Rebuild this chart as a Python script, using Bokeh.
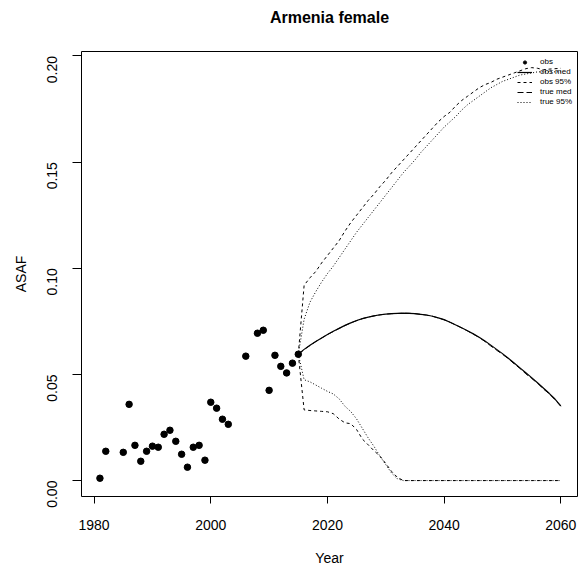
import math
from bokeh.plotting import figure
from bokeh.models import ColumnDataSource, Legend, LegendItem, FixedTicker, Title
from bokeh.embed import file_html
from bokeh.resources import INLINE

# ---- data ----
obs_years = [1981, 1982, 1985, 1986, 1987, 1988, 1989, 1990, 1991, 1992, 1993,
             1994, 1995, 1996, 1997, 1998, 1999, 2000, 2001, 2002, 2003, 2006,
             2008, 2009, 2010, 2011, 2012, 2013, 2014, 2015]
obs_values = [0.0011, 0.0138, 0.0133, 0.0359, 0.0166, 0.0091, 0.0138, 0.0162,
              0.0157, 0.0218, 0.0237, 0.0185, 0.0124, 0.0063, 0.0157, 0.0166,
              0.0096, 0.0369, 0.0341, 0.0289, 0.0265, 0.0586, 0.0694, 0.0708,
              0.0425, 0.0590, 0.0538, 0.0507, 0.0553, 0.0595]

proj_years = list(range(2015, 2061))

obs_med = [0.0595, 0.0618, 0.0637, 0.0655, 0.0672, 0.0688, 0.0703, 0.0717,
           0.0731, 0.0743, 0.0754, 0.0763, 0.0770, 0.0776, 0.0781, 0.0784,
           0.0786, 0.0788, 0.0789, 0.0788, 0.0786, 0.0783, 0.0780, 0.0774,
           0.0766, 0.0758, 0.0746, 0.0733, 0.0720, 0.0706, 0.0691, 0.0675,
           0.0657, 0.0638, 0.0618, 0.0598, 0.0576, 0.0554, 0.0531, 0.0508,
           0.0485, 0.0461, 0.0436, 0.0411, 0.0384, 0.0352]

true_med = [0.0595, 0.0617, 0.0636, 0.0655, 0.0671, 0.0688, 0.0702, 0.0717,
            0.0730, 0.0743, 0.0753, 0.0763, 0.0770, 0.0776, 0.0780, 0.0784,
            0.0786, 0.0787, 0.0788, 0.0788, 0.0786, 0.0783, 0.0779, 0.0774,
            0.0766, 0.0757, 0.0746, 0.0733, 0.0719, 0.0705, 0.0690, 0.0674,
            0.0655, 0.0634, 0.0614, 0.0595, 0.0574, 0.0550, 0.0528, 0.0503,
            0.0481, 0.0459, 0.0432, 0.0409, 0.0381, 0.0350]

obs_hi = [0.0595, 0.0920, 0.0955, 0.0985, 0.1025, 0.1060, 0.1095, 0.1130,
          0.1175, 0.1215, 0.1250, 0.1285, 0.1320, 0.1350, 0.1385, 0.1415,
          0.1450, 0.1480, 0.1510, 0.1540, 0.1570, 0.1600, 0.1630, 0.1660,
          0.1690, 0.1715, 0.1735, 0.1765, 0.1790, 0.1810, 0.1830, 0.1850,
          0.1865, 0.1875, 0.1890, 0.1900, 0.1910, 0.1920, 0.1930, 0.1940,
          0.1945, 0.1942, 0.1935, 0.1938, 0.1940, 0.1942]

obs_lo = [0.0595, 0.0333, 0.0330, 0.0328, 0.0326, 0.0324, 0.0315, 0.0290,
          0.0272, 0.0268, 0.0240, 0.0195, 0.0168, 0.0140, 0.0115, 0.0080,
          0.0043, 0.0015, 0.0000, 0.0000, 0.0000, 0.0000, 0.0000, 0.0000,
          0.0000, 0.0000, 0.0000, 0.0000, 0.0000, 0.0000, 0.0000, 0.0000,
          0.0000, 0.0000, 0.0000, 0.0000, 0.0000, 0.0000, 0.0000, 0.0000,
          0.0000, 0.0000, 0.0000, 0.0000, 0.0000, 0.0000]

true_hi = [0.0595, 0.0760, 0.0840, 0.0890, 0.0935, 0.0975, 0.1010, 0.1050,
           0.1090, 0.1130, 0.1170, 0.1205, 0.1240, 0.1275, 0.1310, 0.1345,
           0.1380, 0.1415, 0.1450, 0.1480, 0.1510, 0.1545, 0.1575, 0.1605,
           0.1635, 0.1665, 0.1690, 0.1715, 0.1745, 0.1770, 0.1790, 0.1810,
           0.1830, 0.1850, 0.1865, 0.1880, 0.1890, 0.1900, 0.1910, 0.1915,
           0.1920, 0.1925, 0.1925, 0.1925, 0.1925, 0.1925]

true_lo = [0.0595, 0.0475, 0.0465, 0.0450, 0.0435, 0.0420, 0.0408, 0.0385,
           0.0350, 0.0325, 0.0290, 0.0245, 0.0200, 0.0160, 0.0115, 0.0075,
           0.0035, 0.0008, 0.0000, 0.0000, 0.0000, 0.0000, 0.0000, 0.0000,
           0.0000, 0.0000, 0.0000, 0.0000, 0.0000, 0.0000, 0.0000, 0.0000,
           0.0000, 0.0000, 0.0000, 0.0000, 0.0000, 0.0000, 0.0000, 0.0000,
           0.0000, 0.0000, 0.0000, 0.0000, 0.0000, 0.0000]

x_ticks = [1980, 2000, 2020, 2040, 2060]
y_ticks = [0.00, 0.05, 0.10, 0.15, 0.20]
title_text = "Armenia female"

FONT = "Liberation Sans"
FRAME_W, FRAME_H = 496, 445

p = figure(frame_width=FRAME_W, frame_height=FRAME_H,
           x_range=(1977.84, 2062.86), y_range=(-0.0075, 0.2021),
           output_backend="svg", toolbar_location=None,
           min_border_left=81, min_border_right=5, min_border_top=51,
           min_border_bottom=73, title=title_text)
p.background_fill_color = "white"
p.border_fill_color = "white"
p.outline_line_color = "black"
p.outline_line_width = 1
p.grid.visible = False

p.title.align = "center"
p.title.text_font = FONT
p.title.text_font_size = "16px"
p.title.text_font_style = "bold"
p.title.text_color = "black"

# invisible spacer between the title and the frame, pushes the title upward
p.add_layout(Title(text=" ", text_font_size="8px", text_color="white"), "above")

for ax in (p.xaxis[0], p.yaxis[0]):
    ax.axis_line_color = None
    ax.major_tick_in = 0
    ax.minor_tick_line_color = None
    ax.major_tick_line_color = "black"
    ax.major_label_text_font = FONT
    ax.major_label_text_font_size = "14px"
    ax.major_label_text_color = "black"
    ax.axis_label_text_font = FONT
    ax.axis_label_text_font_size = "14px"
    ax.axis_label_text_font_style = "normal"
    ax.axis_label_text_color = "black"

p.xaxis.ticker = FixedTicker(ticks=x_ticks)
p.xaxis.major_tick_out = 7
p.xaxis.major_label_standoff = 16
p.xaxis.axis_label = "Year"
p.xaxis.axis_label_standoff = 17

p.yaxis.ticker = FixedTicker(ticks=y_ticks)
p.yaxis.major_label_overrides = {0.0: "0.00", 0.05: "0.05", 0.1: "0.10", 0.15: "0.15", 0.2: "0.20"}
p.yaxis.major_tick_out = 9
p.yaxis.major_label_standoff = 20
p.yaxis.major_label_orientation = math.pi / 2
p.yaxis.axis_label = "ASAF"
p.yaxis.axis_label_standoff = 11

# observed points (small proxy under the real points is used for the legend symbol)
obs_src = ColumnDataSource(dict(x=obs_years, y=obs_values))
leg_pt = p.scatter("x", "y", source=obs_src, size=4.5, color="black")
p.scatter("x", "y", source=obs_src, size=6.5, color="black")

proj = ColumnDataSource(dict(x=proj_years, med=obs_med, tmed=true_med,
                             ohi=obs_hi, olo=obs_lo, thi=true_hi, tlo=true_lo))

r_med = p.line("x", "med", source=proj, color="black", line_width=1.2)
r_ohi = p.line("x", "ohi", source=proj, color="black", line_width=1, line_dash="3 3")
p.line("x", "olo", source=proj, color="black", line_width=1, line_dash="3 3")
r_tmed = p.line("x", "tmed", source=proj, color="black", line_width=1, line_dash="6 3")
r_thi = p.line("x", "thi", source=proj, color="black", line_width=1, line_dash="1 2")
p.line("x", "tlo", source=proj, color="black", line_width=1, line_dash="1 2")

legend = Legend(items=[
    LegendItem(label="obs", renderers=[leg_pt]),
    LegendItem(label="obs med", renderers=[r_med]),
    LegendItem(label="obs 95%", renderers=[r_ohi]),
    LegendItem(label="true med", renderers=[r_tmed]),
    LegendItem(label="true 95%", renderers=[r_thi]),
], location=(436, 390))
legend.background_fill_alpha = 0
legend.border_line_color = None
legend.padding = 0
legend.margin = 0
legend.spacing = 1
legend.glyph_width = 15
legend.glyph_height = 8
legend.label_height = 8
legend.label_standoff = 8
legend.label_text_font = FONT
legend.label_text_font_size = "8px"
legend.label_text_color = "black"
legend.label_text_line_height = 1.0
p.add_layout(legend)

open("out.html", "w").write(file_html(p, INLINE))
